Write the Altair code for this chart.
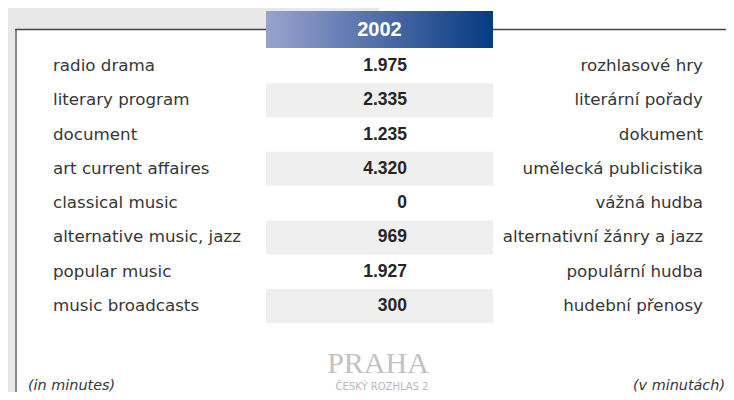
import altair as alt
import pandas as pd

# ---- data ----
year_label = "2002"
categories_en = [
    "radio drama", "literary program", "document", "art current affaires",
    "classical music", "alternative music, jazz", "popular music", "music broadcasts",
]
categories_cs = [
    "rozhlasové hry", "literární pořady", "dokument", "umělecká publicistika",
    "vážná hudba", "alternativní žánry a jazz", "populární hudba", "hudební přenosy",
]
values_2002 = [1975, 2335, 1235, 4320, 0, 969, 1927, 300]
unit_en = "(in minutes)"
unit_cs = "(v minutách)"
logo_main = "PRAHA"
logo_sub = "ČESKÝ ROZHLAS 2"

df = pd.DataFrame({
    "en": categories_en,
    "cs": categories_cs,
    "value": values_2002,
    "row": list(range(len(categories_en))),
})
df["shade"] = df["row"] % 2 == 1

one = pd.DataFrame({"k": [0]})

W, H = 718, 384
LABEL_FONT = "DejaVu Sans"
TEXT_COLOR = "#363636"

yscale = alt.Scale(type="point", domain=categories_en, range=[58, 298], padding=0)
Y = alt.Y("en:N", scale=yscale, axis=None)

# decorations
gray_top = alt.Chart(one).mark_rect(color="#e8e8e8").encode(
    x=alt.value(0), x2=alt.value(371), y=alt.value(0), y2=alt.value(21.5))
gray_left = alt.Chart(one).mark_rect(color="#e8e8e8").encode(
    x=alt.value(0), x2=alt.value(7), y=alt.value(0), y2=alt.value(H))
left_line = alt.Chart(one).mark_rule(color="#8a8a8a", strokeWidth=2).encode(
    x=alt.value(8), y=alt.value(21), y2=alt.value(H))
top_line = alt.Chart(one).mark_rule(color="#444444", strokeWidth=1.5).encode(
    x=alt.value(7), x2=alt.value(W), y=alt.value(21.5))

header = alt.Chart(one).mark_rect(
    fill=alt.LinearGradient(
        gradient="linear",
        stops=[alt.GradientStop(offset=0, color="#9aa2cd"),
               alt.GradientStop(offset=1, color="#063a82")],
        x1=0, x2=1, y1=0, y2=0,
    )
).encode(x=alt.value(258), x2=alt.value(485), y=alt.value(3), y2=alt.value(40))

header_text = alt.Chart(one).transform_calculate(t=f"'{year_label}'").mark_text(
    font="Liberation Sans", fontWeight="bold", fontSize=20, color="white",
    align="center", baseline="middle").encode(
    x=alt.value(371.5), y=alt.value(22), text="t:N")

bands = alt.Chart(df).transform_filter("datum.shade").mark_rect(
    color="#efefef", yOffset=-17, y2Offset=17).encode(
    x=alt.value(258), x2=alt.value(485), y=Y, y2=alt.Y2("en"))

left_labels = alt.Chart(df).mark_text(
    font=LABEL_FONT, fontSize=16.7, color=TEXT_COLOR, align="left", baseline="middle").encode(
    x=alt.value(45), y=Y, text="en:N")

right_labels = alt.Chart(df).mark_text(
    font=LABEL_FONT, fontSize=16.7, color=TEXT_COLOR, align="right", baseline="middle").encode(
    x=alt.value(695), y=Y, text="cs:N")

value_text = alt.Chart(df).transform_calculate(
    vt="replace(format(datum.value, ','), ',', '.')").mark_text(
    font="Liberation Sans", fontWeight="bold", fontSize=17.5, color="#262626",
    align="right", baseline="middle").encode(
    x=alt.value(399), y=Y, text="vt:N")

foot_left = alt.Chart(one).transform_calculate(t=f"'{unit_en}'").mark_text(
    font=LABEL_FONT, fontStyle="italic", fontSize=14.4, color=TEXT_COLOR,
    align="left", baseline="alphabetic").encode(
    x=alt.value(20), y=alt.value(382), text="t:N")

foot_right = alt.Chart(one).transform_calculate(t=f"'{unit_cs}'").mark_text(
    font=LABEL_FONT, fontStyle="italic", fontSize=14.4, color=TEXT_COLOR,
    align="right", baseline="alphabetic").encode(
    x=alt.value(717), y=alt.value(382), text="t:N")

logo = alt.Chart(one).transform_calculate(t=f"'{logo_main}'").mark_text(
    font="Liberation Serif", fontSize=30, color="#c2c2c2",
    align="center", baseline="alphabetic").encode(
    x=alt.value(370), y=alt.value(365), text="t:N")

logo2 = alt.Chart(one).transform_calculate(t=f"'{logo_sub}'").mark_text(
    font="DejaVu Sans", fontSize=10, color="#b8b8b8",
    align="center", baseline="middle").encode(
    x=alt.value(374), y=alt.value(379), text="t:N")

chart = alt.layer(
    gray_top, gray_left, left_line, top_line, bands, header, header_text,
    left_labels, value_text, right_labels, foot_left, foot_right, logo, logo2,
).properties(
    width=W, height=H, padding=0, autosize=alt.AutoSizeParams(type="none"),
).configure_view(stroke=None)

chart.save("out.html", embed_options={"renderer": "svg", "actions": False})
